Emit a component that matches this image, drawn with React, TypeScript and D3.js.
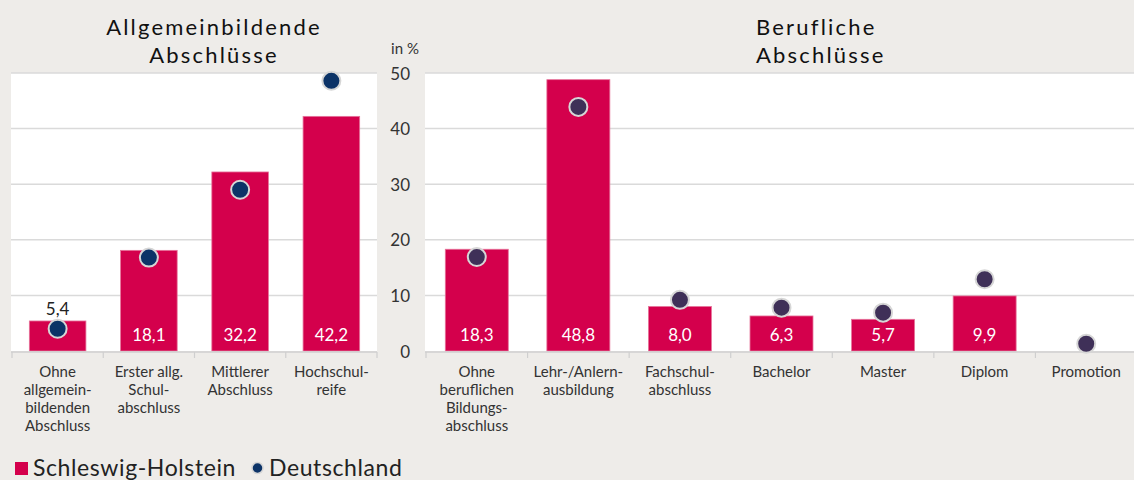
import React from "react";
import * as d3 from "d3";

const leftCategories = [
  ["Ohne", "allgemein-", "bildenden", "Abschluss"],
  ["Erster allg.", "Schul-", "abschluss"],
  ["Mittlerer", "Abschluss"],
  ["Hochschul-", "reife"],
];
const leftSH: (number | null)[] = [5.4, 18.1, 32.2, 42.2];
const leftDE: number[] = [4.0, 16.8, 29.0, 48.6];

const rightCategories = [
  ["Ohne", "beruflichen", "Bildungs-", "abschluss"],
  ["Lehr-/Anlern-", "ausbildung"],
  ["Fachschul-", "abschluss"],
  ["Bachelor"],
  ["Master"],
  ["Diplom"],
  ["Promotion"],
];
const rightSH: (number | null)[] = [18.3, 48.8, 8.0, 6.3, 5.7, 9.9, null];
const rightDE: number[] = [16.9, 43.9, 9.2, 7.8, 6.9, 12.9, 1.3];

const yTicks = [0, 10, 20, 30, 40, 50];
const titleLeft = ["Allgemeinbildende", "Abschlüsse"];
const titleRight = ["Berufliche", "Abschlüsse"];
const legendLabels = ["Schleswig-Holstein", "Deutschland"];

const FONT = "Lato, 'Noto Sans', sans-serif";
const BAR = "#d4004c";
const GRID = "#dadada";

const fmt = (v: number) => v.toFixed(1).replace(".", ",");

function Panel({
  cats, sh, de, x0, x1, plotRight, dotColor,
}: {
  cats: string[][]; sh: (number | null)[]; de: number[];
  x0: number; x1: number; plotRight: number; dotColor: string;
}) {
  const y = d3.scaleLinear().domain([0, 50]).range([351, 73]);
  const keys = cats.map((c) => c.join(" "));
  const x = d3.scaleBand().domain(keys).range([x0, x1]).paddingInner(0.38).paddingOuter(0.19);
  const step = x.step();
  const bw = x.bandwidth();
  const boundaries = d3.range(cats.length + 1).map((i) => x0 + i * step);
  return (
    <g>
      <rect x={x0 - 1} y={y(50)} width={plotRight - x0 + 1} height={y(0) - y(50)} fill="#ffffff" />
      {yTicks.filter((t) => t > 0).map((t) => (
        <line key={t} x1={x0 - 1} x2={plotRight} y1={y(t)} y2={y(t)} stroke={GRID} strokeWidth={1.5} />
      ))}
      {sh.map((v, i) =>
        v == null ? null : (
          <rect key={i} x={x(keys[i])!} y={y(v)} width={bw} height={y(0) - y(v)} fill={BAR} stroke="#e6739a" strokeWidth={0.8} />
        )
      )}
      <line x1={x0 - 1} x2={plotRight} y1={y(0) + 1} y2={y(0) + 1} stroke="#cfcfcf" strokeWidth={1.5} />
      {boundaries.map((b, i) => (
        <line key={i} x1={b} x2={b} y1={y(0) + 1} y2={y(0) + 7} stroke="#cfcfcf" strokeWidth={1.2} />
      ))}
      {sh.map((v, i) => {
        if (v == null) return null;
        const cx = x(keys[i])! + bw / 2;
        const inside = y(0) - y(v) > 31;
        return inside ? (
          <text key={i} x={cx} y={334} textAnchor="middle" dominantBaseline="central" fill="#ffffff" fontSize={17} fontFamily={FONT}>{fmt(v)}</text>
        ) : (
          <text key={i} x={cx} y={y(v) - 12} textAnchor="middle" dominantBaseline="central" fill="#222" fontSize={17} fontFamily={FONT}>{fmt(v)}</text>
        );
      })}
      {de.map((v, i) => (
        <circle key={i} cx={x(keys[i])! + bw / 2} cy={y(v)} r={9} fill={dotColor} stroke="#d6d6d6" strokeWidth={2} />
      ))}
      {cats.map((lines, i) => (
        <text key={i} textAnchor="middle" fill="#333" fontSize={15} fontFamily={FONT}>
          {lines.map((l, j) => (
            <tspan key={j} x={x(keys[i])! + bw / 2} y={377 + j * 18}>{l}</tspan>
          ))}
        </text>
      ))}
    </g>
  );
}

export default function App() {
  const y = d3.scaleLinear().domain([0, 50]).range([351, 73]);
  return (
    <svg width={1134} height={480} style={{ position: "absolute", left: 0, top: 0, background: "#eeece9" }}>
      <rect x={0} y={0} width={1134} height={480} fill="#eeece9" />
      <Panel cats={leftCategories} sh={leftSH} de={leftDE} x0={12} x1={377} plotRight={377} dotColor="#0c3367" />
      <Panel cats={rightCategories} sh={rightSH} de={rightDE} x0={426} x1={1137} plotRight={1134} dotColor="#3f3058" />
      {yTicks.map((t) => (
        <text key={t} x={410} y={y(t)} textAnchor="end" dominantBaseline="central" fill="#333" fontSize={17} fontFamily={FONT}>{t}</text>
      ))}
      <text x={405} y={54} textAnchor="middle" fill="#333" fontSize={15} fontFamily={FONT}>in %</text>
      <text textAnchor="middle" fill="#111" fontSize={22} letterSpacing={2.2} fontFamily={FONT}>
        {titleLeft.map((l, j) => (
          <tspan key={j} x={214} y={35 + j * 28}>{l}</tspan>
        ))}
      </text>
      <text textAnchor="start" fill="#111" fontSize={22} letterSpacing={2.2} fontFamily={FONT}>
        {titleRight.map((l, j) => (
          <tspan key={j} x={756} y={35 + j * 28}>{l}</tspan>
        ))}
      </text>
      <rect x={15} y={462} width={13} height={13} fill={BAR} />
      <text x={33} y={476} fill="#222" fontSize={23} letterSpacing={0.6} fontFamily={FONT}>{legendLabels[0]}</text>
      <circle cx={257.5} cy={468} r={5.5} fill="#0c3367" stroke="#d6d6d6" strokeWidth={1.5} />
      <text x={269} y={476} fill="#222" fontSize={23} letterSpacing={0.6} fontFamily={FONT}>{legendLabels[1]}</text>
    </svg>
  );
}
